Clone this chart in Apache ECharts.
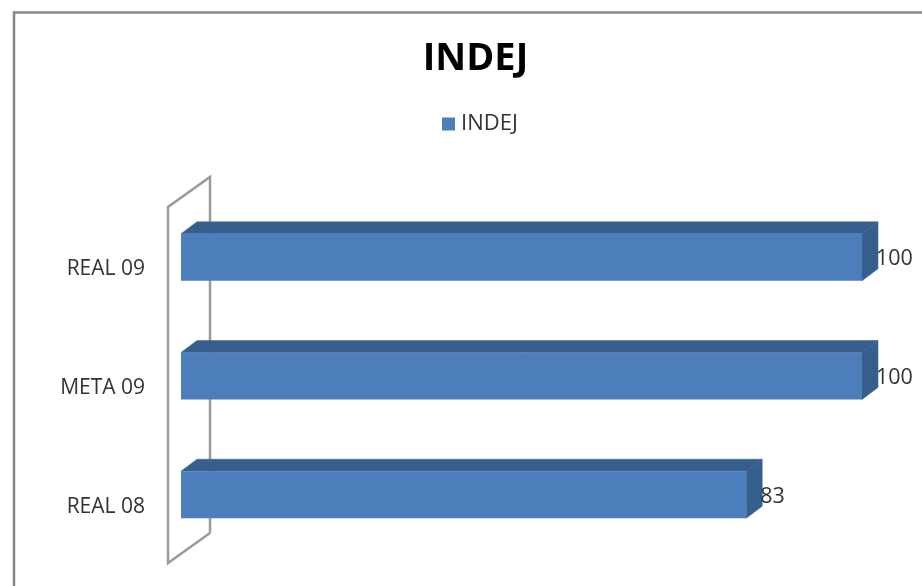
<!DOCTYPE html>
<html>
<head>
<meta charset="utf-8">
<style>
  html, body { margin: 0; padding: 0; background: #fff; }
  #chart { width: 922px; height: 586px; }
</style>
<script src="https://cdn.jsdelivr.net/npm/echarts@6/dist/echarts.min.js"></script>
</head>
<body>
<div id="chart"></div>
<script>
const chartTitle = 'INDEJ';
const seriesName = 'INDEJ';
const categories = ['REAL 08', 'META 09', 'REAL 09'];
const values = [83, 100, 100];

const FRONT = '#4c7ebb';
const SHADE = '#375f8e';
const DEPTH_X = 16;
const DEPTH_Y = 12;

const chart = echarts.init(document.getElementById('chart'));

function renderBar(params, api) {
  const end = api.coord([api.value(0), api.value(1)]);
  const start = api.coord([0, api.value(1)]);
  const h = api.size([0, 1])[1] * 0.396;
  // bars sit on the back of the wall, a bit above the label line
  const cy = end[1] - 12;
  const x0 = start[0], x1 = end[0], y0 = cy - h / 2, y1 = cy + h / 2;
  return {
    type: 'group',
    children: [
      { type: 'polygon', shape: { points: [[x0, y0], [x0 + DEPTH_X, y0 - DEPTH_Y], [x1 + DEPTH_X, y0 - DEPTH_Y], [x1, y0]] }, style: { fill: SHADE, stroke: SHADE, lineWidth: 0.5 } },
      { type: 'polygon', shape: { points: [[x1, y0], [x1 + DEPTH_X, y0 - DEPTH_Y], [x1 + DEPTH_X, y1 - DEPTH_Y], [x1, y1]] }, style: { fill: SHADE, stroke: SHADE, lineWidth: 0.5 } },
      { type: 'rect', shape: { x: x0, y: y0, width: x1 - x0, height: h }, style: { fill: FRONT } },
      {
        type: 'text',
        style: {
          x: x1 + 14, y: cy + 2, text: String(api.value(0)),
          fill: '#333', font: '21.5px "Open Sans"', textVerticalAlign: 'middle'
        }
      }
    ]
  };
}

chart.setOption({
  animation: false,
  backgroundColor: '#fff',
  title: {
    text: chartTitle,
    left: 470.5, top: 35, textAlign: 'center',
    textStyle: { fontFamily: 'Open Sans', fontSize: 38, fontWeight: 'bold', color: '#000' }
  },
  legend: {
    data: [{ name: seriesName, icon: 'rect', itemStyle: { color: FRONT } }],
    left: 437, top: 108,
    itemWidth: 13, itemHeight: 13, itemGap: 6,
    textStyle: { fontFamily: 'Open Sans', fontSize: 22, color: '#333', padding: [0, 0, 0, 1] }
  },
  grid: { left: 181, top: 210, width: 681, height: 356 },
  xAxis: { type: 'value', min: 0, max: 100, show: false },
  yAxis: {
    type: 'category',
    data: categories,
    axisLine: { show: false },
    axisTick: { show: false },
    axisLabel: { margin: 36, fontFamily: 'Open Sans', fontSize: 21, color: '#333' }
  },
  graphic: [
    // chart frame
    { type: 'polyline', shape: { points: [[14, 586], [14, 12.5], [922, 12.5]] }, style: { fill: null, stroke: '#868686', lineWidth: 2.5 } },
    // wall of the 3D plot, behind the bars
    { type: 'polyline', z: -1, shape: { points: [[210, 533], [210, 177], [168, 207], [168, 563], [210, 533]] }, style: { fill: null, stroke: '#9a9a9a', lineWidth: 2.5 } }
  ],
  series: [{
    type: 'custom',
    name: seriesName,
    renderItem: renderBar,
    encode: { x: 0, y: 1 },
    data: values.map((v, i) => [v, i]),
    z: 5
  }]
});
</script>
</body>
</html>
